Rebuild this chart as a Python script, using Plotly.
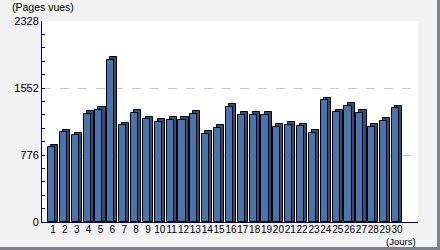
import plotly.graph_objects as go

days = list(range(1, 31))
day_labels = [str(d) for d in days]
pages_vues = [865, 1039, 1004, 1251, 1297, 1876, 1120, 1262, 1189, 1158,
              1181, 1181, 1251, 1019, 1089, 1332, 1239, 1239, 1239, 1100,
              1123, 1108, 1031, 1409, 1270, 1344, 1262, 1100, 1170, 1317]
y_ticks = [0, 776, 1552, 2328]
y_max = 2328

depth = 30  # 3D cap height in data units (style)
back_vals = [v + depth for v in pages_vues]

fig = go.Figure()
# back (3D side/cap)
fig.add_trace(go.Bar(
    x=days, y=back_vals, offset=-0.17, width=0.6,
    marker=dict(color="#2c4f80", line=dict(color="#000000", width=1)),
    hoverinfo="skip", showlegend=False))
# front face
fig.add_trace(go.Bar(
    x=days, y=pages_vues, offset=-0.43, width=0.6,
    marker=dict(color="#4a74aa", line=dict(color="#000000", width=1)),
    showlegend=False))

fig.update_layout(
    width=440, height=250,
    margin=dict(l=42, r=22, t=21, b=28),
    paper_bgcolor="#f2f2f2", plot_bgcolor="#ffffff",
    barmode="overlay", bargap=0,
    font=dict(family="Liberation Sans, Arial, sans-serif", size=11, color="#000000"),
    xaxis=dict(range=[0.07, 31.77], tickmode="array", tickvals=days, ticktext=day_labels,
               tickangle=0, showgrid=False, zeroline=False, showline=True,
               linecolor="#000080", linewidth=1, ticks="", tickfont=dict(size=10),
               ticklabelstandoff=-2),
    yaxis=dict(range=[0, y_max], tickmode="array", tickvals=y_ticks,
               ticktext=[str(t) for t in y_ticks],
               showgrid=True, gridcolor="#c8c8c8", griddash="dash", gridwidth=1,
               zeroline=False, showline=True, linecolor="#000080", linewidth=1,
               ticks="inside", ticklen=3, tickcolor="#000080",
               minor=dict(dtick=155.2, tick0=0, ticks="inside", ticklen=3,
                          tickcolor="#000080", showgrid=False)),
    annotations=[
        dict(text="(Pages vues)", xref="paper", yref="paper", x=-0.085, y=1.07,
             xanchor="left", yanchor="middle", showarrow=False, font=dict(size=10.5)),
        dict(text="(Jours)", xref="paper", yref="paper", x=0.997, y=(222 - 248) / 201,
             xanchor="right", yanchor="bottom", showarrow=False, font=dict(size=9.5),
             borderpad=0),
    ],
    shapes=[
        # right border
        dict(type="rect", xref="paper", yref="paper", x0=(437 - 42) / 376, x1=(441 - 42) / 376,
             y0=(222 - 251) / 201, y1=(222 + 1) / 201, fillcolor="#80808a", line=dict(width=0),
             layer="above"),
        # bottom border
        dict(type="rect", xref="paper", yref="paper", x0=(-1 - 42) / 376, x1=(441 - 42) / 376,
             y0=(222 - 251) / 201, y1=(222 - 247) / 201, fillcolor="#80808a", line=dict(width=0),
             layer="below"),
    ],
)

fig.write_html("out.html")
